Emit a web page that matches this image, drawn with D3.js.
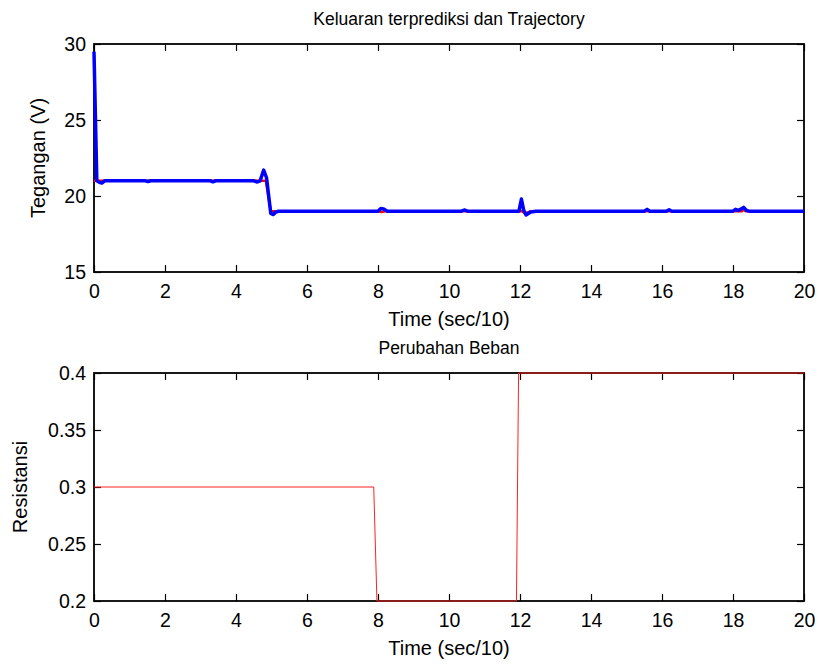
<!doctype html>
<html lang="id">
    <head>
        <meta charset="utf-8">
        <title>Keluaran terprediksi dan Trajectory</title>
        <style>
            body { margin: 0; background: #fff; }
            svg { font-family: "Liberation Sans", Arial, sans-serif; }
        </style>
    </head>
    <body>
        <div id="chart"></div>

        <script src="https://cdn.jsdelivr.net/npm/d3@7"></script>
        <script>
            // top plot: trajectory (red) and predicted output (blue)
            var predTime = [0, 0.08, 0.15, 0.22, 0.3, 1.45, 1.52, 1.6, 3.28, 3.35, 3.42, 4.5, 4.6, 4.68, 4.78, 4.86, 4.98, 5.05, 5.12, 5.2,
                            8.0, 8.08, 8.16, 8.26, 10.35, 10.43, 10.52, 11.97, 12.04, 12.1, 12.17, 12.3, 12.45,
                            15.5, 15.58, 15.66, 16.12, 16.2, 16.28, 18.0, 18.07, 18.15, 18.3, 18.38, 18.45, 20];
            var predValue = [29.5, 21.0, 20.9, 20.85, 21.0, 21.0, 20.95, 21.0, 21.0, 20.93, 21.0, 21.0, 20.92, 21.0, 21.7, 21.2, 18.85, 18.78, 18.95, 19.0,
                             19.0, 19.18, 19.15, 19.0, 19.0, 19.08, 19.0, 19.0, 19.8, 19.1, 18.75, 18.95, 19.0,
                             19.0, 19.12, 19.0, 19.0, 19.1, 19.0, 19.0, 19.12, 19.05, 19.25, 19.05, 19.0, 19.0];
            var trajTime = [0, 4.84, 4.98, 8.0, 8.1, 8.2, 12.05, 12.15, 12.3, 18.25, 18.3, 18.36, 20];
            var trajValue = [21.0, 21.0, 19.0, 19.0, 18.94, 19.0, 19.0, 18.85, 19.0, 19.0, 19.1, 19.0, 19.0];

            // bottom plot: load change
            var loadTime = [0, 7.88, 7.97, 11.9, 11.96, 20];
            var loadValue = [0.3, 0.3, 0.2, 0.2, 0.4, 0.4];

            var timeTicks = [0, 2, 4, 6, 8, 10, 12, 14, 16, 18, 20];
            var voltTicks = [15, 20, 25, 30];
            var resTicks = [0.2, 0.25, 0.3, 0.35, 0.4];

            var width = 820, height = 664;
            var left = 94, right = 804;

            var svg = d3.select("#chart").append("svg")
                .attr("width", width)
                .attr("height", height);

            function zip(xs, ys) {
                return xs.map(function(x, i) { return [x, ys[i]]; });
            }

            function drawPanel(opt) {
                var x = d3.scaleLinear().domain([0, 20]).range([left, right]);
                var y = d3.scaleLinear().domain(opt.domain).range([opt.bottom, opt.top]);
                var g = svg.append("g");

                var fmt = opt.fmt || function(d) { return d; };

                var axes = [
                    [d3.axisBottom(x).tickValues(timeTicks).tickPadding(12), 0, opt.bottom, true],
                    [d3.axisTop(x).tickValues(timeTicks), 0, opt.top, false],
                    [d3.axisLeft(y).tickValues(opt.ticks).tickPadding(8).tickFormat(fmt), left, 0, true],
                    [d3.axisRight(y).tickValues(opt.ticks), right, 0, false]
                ];
                axes.forEach(function(a) {
                    var ax = a[0].tickSize(-7);
                    if (!a[3]) ax.tickFormat("");
                    var ag = g.append("g")
                        .attr("transform", "translate(" + a[1] + "," + a[2] + ")")
                        .call(ax);
                    ag.select(".domain").remove();
                    ag.selectAll(".tick line").attr("stroke", "#000").attr("stroke-width", 1.2);
                    ag.selectAll("text")
                        .attr("fill", "#000")
                        .style("font-size", "19.5px")
                        .style("font-family", "Liberation Sans, Arial, sans-serif");
                });

                // box
                g.append("rect")
                    .attr("x", left).attr("y", opt.top)
                    .attr("width", right - left).attr("height", opt.bottom - opt.top)
                    .attr("fill", "none").attr("stroke", "#000").attr("stroke-width", 1.8);

                var line = d3.line().x(function(d) { return x(d[0]); }).y(function(d) { return y(d[1]); });
                opt.series.forEach(function(s) {
                    g.append("path")
                        .datum(s.data)
                        .attr("d", line)
                        .attr("fill", "none")
                        .attr("stroke", s.color)
                        .attr("stroke-width", s.width)
                        .attr("stroke-linejoin", "round");
                });

                g.append("text")
                    .attr("x", (left + right) / 2).attr("y", opt.top - 19)
                    .attr("text-anchor", "middle")
                    .style("font-size", "17.5px")
                    .text(opt.title);

                g.append("text")
                    .attr("x", (left + right) / 2).attr("y", opt.bottom + 54)
                    .attr("text-anchor", "middle")
                    .style("font-size", "20px")
                    .text("Time (sec/10)");

                g.append("text")
                    .attr("transform", "translate(" + opt.ylabelX + "," + (opt.top + opt.bottom) / 2 + ") rotate(-90)")
                    .attr("text-anchor", "middle")
                    .style("font-size", "20px")
                    .text(opt.ylabel);
            }

            drawPanel({
                top: 44, bottom: 272, domain: [15, 30], ticks: voltTicks,
                title: "Keluaran terprediksi dan Trajectory", ylabel: "Tegangan (V)", ylabelX: 45,
                series: [
                    { data: zip(trajTime, trajValue), color: "#ff0000", width: 2.5 },
                    { data: zip(predTime, predValue), color: "#0000ff", width: 3.5 }
                ]
            });

            drawPanel({
                top: 373, bottom: 601, domain: [0.2, 0.4], ticks: resTicks,
                fmt: function(d) { return String(d); },
                title: "Perubahan Beban", ylabel: "Resistansi", ylabelX: 27,
                series: [
                    { data: zip(loadTime, loadValue), color: "#ff2020", width: 1 }
                ]
            });
        </script>
    </body>
</html>
